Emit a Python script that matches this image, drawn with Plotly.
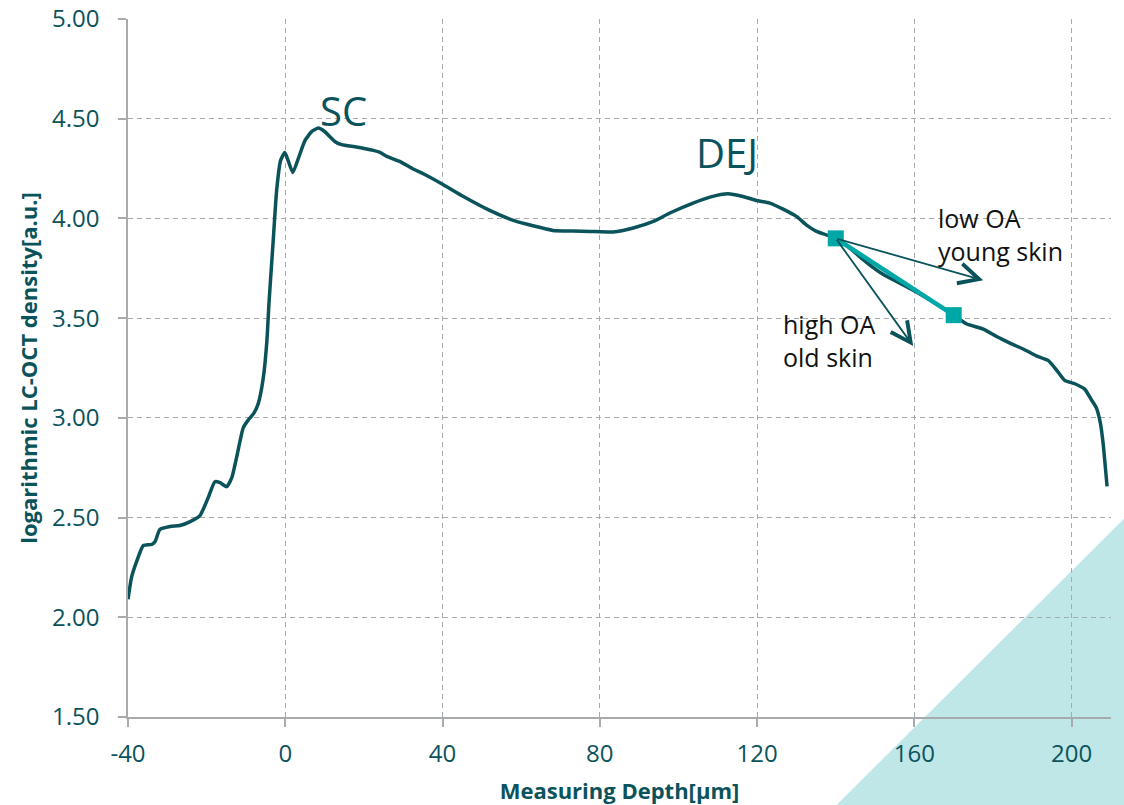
import plotly.graph_objects as go

# Depth profile of the logarithmic LC-OCT density
depth_um = [-40, -39.1, -37.8, -36.1, -34.0, -33.1, -31.9, -29.3, -26.8, -24.2,
            -21.7, -19.6, -17.9, -16.6, -14.9, -13.6, -12.4, -10.7, -9.4, -8.1,
            -6.9, -5.6, -4.7, -4.1, -3.1, -2.2, -1.2, -0.1, 1.9, 3.3,
            5.0, 6.7, 8.4, 10.0, 12.6, 14.3, 18.1, 22.4, 24.1, 25.8,
            29.1, 32.5, 35.1, 40.2, 45.3, 52.0, 58.0, 63.0, 68.1, 73.2,
            77.5, 83.4, 88.5, 93.6, 97.8, 103.7, 108.0, 112.6, 116.4, 119.8,
            123.2, 126.6, 130.0, 132.5, 135.1, 137.6, 140.0, 143.0, 147.8, 152.0,
            159.7, 166.5, 170.0, 173.2, 177.5, 180.9, 184.3, 188.4, 191.0, 194.0,
            196.1, 198.2, 200.8, 203.3, 205.0, 206.3, 207.3, 208.0, 209.0]
log_density = [2.09, 2.20, 2.28, 2.36, 2.365, 2.38, 2.44, 2.455, 2.46, 2.48,
               2.51, 2.60, 2.68, 2.675, 2.655, 2.70, 2.80, 2.95, 2.99, 3.02,
               3.07, 3.20, 3.38, 3.59, 3.88, 4.14, 4.29, 4.33, 4.23, 4.30,
               4.39, 4.435, 4.453, 4.436, 4.386, 4.37, 4.358, 4.341, 4.331, 4.311,
               4.286, 4.248, 4.224, 4.169, 4.11, 4.04, 3.99, 3.963, 3.94, 3.937,
               3.935, 3.932, 3.952, 3.985, 4.027, 4.077, 4.107, 4.124, 4.11, 4.09,
               4.077, 4.047, 4.01, 3.968, 3.935, 3.918, 3.90, 3.86, 3.78, 3.72,
               3.64, 3.56, 3.515, 3.472, 3.445, 3.408, 3.375, 3.338, 3.311, 3.288,
               3.241, 3.188, 3.171, 3.144, 3.091, 3.049, 2.974, 2.871, 2.656]

# Slope segment used for the optical attenuation (OA)
oa_depth = [140, 170]
oa_density = [3.90, 3.515]

# Arrow tips for the two attenuation scenarios
young_tip = (177.5, 3.69)
old_tip = (159.7, 3.36)

x_ticks = [-40, 0, 40, 80, 120, 160, 200]
y_ticks = [1.5, 2.0, 2.5, 3.0, 3.5, 4.0, 4.5, 5.0]

DARK = "#0B535B"
TEAL = "#00A7A7"
GRID = "#A7ABAD"
FONT = "Open Sans"

fig = go.Figure()

fig.add_trace(go.Scatter(
    x=depth_um, y=log_density, mode="lines",
    line=dict(color=DARK, width=3.5, shape="spline", smoothing=0.5),
    showlegend=False, hoverinfo="skip"))

fig.add_trace(go.Scatter(
    x=oa_depth, y=oa_density, mode="lines+markers",
    line=dict(color=TEAL, width=4.5),
    marker=dict(symbol="square", size=16, color=TEAL),
    showlegend=False, hoverinfo="skip"))

# Decorative corner triangle
fig.add_shape(type="path", xref="paper", yref="paper", layer="below",
              path="M 0.718 -0.13 L 1.02 0.2935 L 1.02 -0.13 Z",
              fillcolor="#BFE7E7", line=dict(width=0))

for tip in (young_tip, old_tip):
    fig.add_annotation(x=tip[0], y=tip[1], ax=oa_depth[0], ay=oa_density[0],
                       xref="x", yref="y", axref="x", ayref="y",
                       text="", showarrow=True, arrowhead=5, arrowsize=2.2,
                       arrowwidth=1.8, arrowcolor=DARK, standoff=0, startstandoff=0)

fig.add_annotation(x=14.9, y=4.54, text="SC", showarrow=False,
                   font=dict(family=FONT, size=40, color=DARK))
fig.add_annotation(x=112.3, y=4.33, text="DEJ", showarrow=False,
                   font=dict(family=FONT, size=40, color=DARK))
fig.add_annotation(x=165.4, y=3.92, text="low OA<br>young skin", showarrow=False,
                   xanchor="left", yanchor="middle", align="left",
                   font=dict(family=FONT, size=25, color="#111111"))
fig.add_annotation(x=126.0, y=3.39, text="high OA<br>old skin", showarrow=False,
                   xanchor="left", yanchor="middle", align="left",
                   font=dict(family=FONT, size=25, color="#111111"))

fig.update_layout(
    width=1124, height=805,
    margin=dict(l=128, r=13, t=19, b=88),
    paper_bgcolor="white", plot_bgcolor="rgba(0,0,0,0)",
    font=dict(family=FONT, color=DARK),
    xaxis=dict(range=[-40, 210], tickvals=x_ticks, ticktext=[str(v) for v in x_ticks],
               automargin=False,
               showgrid=True, gridcolor=GRID, griddash="5px,4px", gridwidth=1.3,
               zeroline=False, showline=True, linecolor=GRID, linewidth=1.5,
               ticks="outside", ticklen=8, tickcolor=GRID, tickwidth=1.5,
               ticklabelstandoff=6,
               tickfont=dict(size=24, color=DARK, family=FONT),
               title=dict(text="<b>Measuring Depth[μm]</b>", standoff=18,
                          font=dict(size=22, color=DARK, family=FONT))),
    yaxis=dict(range=[1.5, 5.0], tickvals=y_ticks, tickformat=".2f",
               automargin=False,
               showgrid=True, gridcolor=GRID, griddash="5px,4px", gridwidth=1.3,
               zeroline=False, showline=True, linecolor=GRID, linewidth=1.5,
               ticks="outside", ticklen=8, tickcolor=GRID, tickwidth=1.5,
               ticklabelstandoff=14,
               tickfont=dict(size=24, color=DARK, family=FONT),
               title=dict(text="<b>logarithmic LC-OCT density[a.u.]</b>", standoff=8,
                          font=dict(size=22, color=DARK, family=FONT))),
)

fig.write_html("out.html")
